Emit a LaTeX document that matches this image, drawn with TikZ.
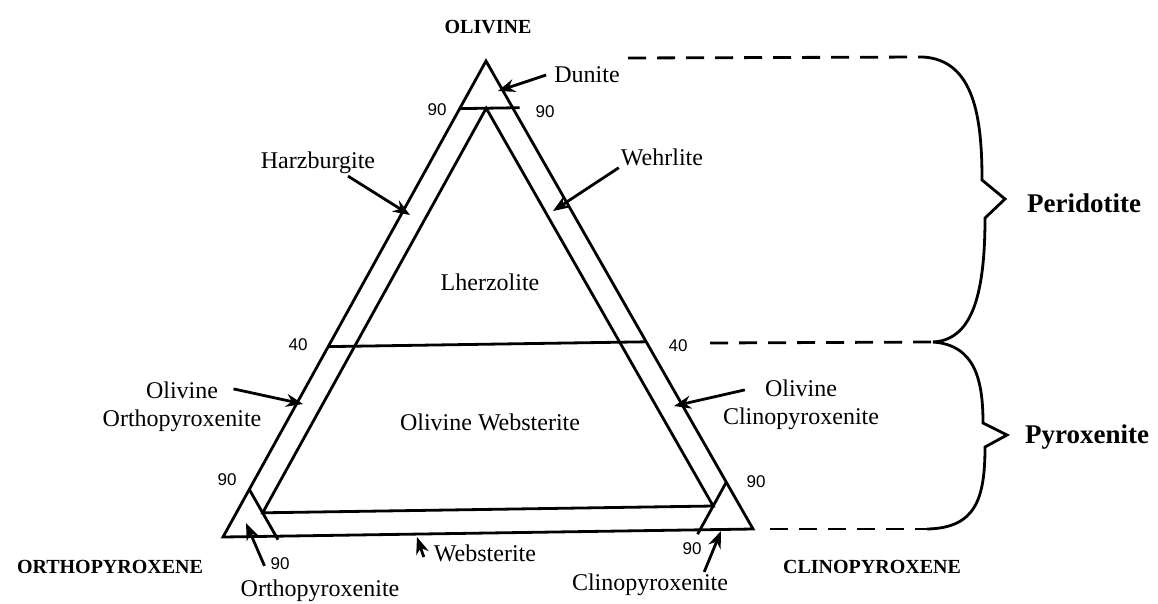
\documentclass[tikz,border=0pt]{standalone}
\usepackage{fontspec}
\setmainfont{Liberation Serif}
\newfontfamily\numfont{Liberation Sans}
\usetikzlibrary{arrows.meta,calc}
\tikzset{
  edge/.style={line width=2.8pt, line join=miter},
  lbl/.style={font=\fontsize{24}{28}\selectfont, align=center, inner sep=2pt},
  corner/.style={font=\bfseries\fontsize{20}{24}\selectfont, inner sep=2pt},
  num/.style={font=\numfont\fontsize{17}{20}\selectfont, inner sep=1pt},
  group/.style={font=\bfseries\fontsize{27}{32}\selectfont, inner sep=2pt},
  arr/.style={-{Stealth[length=17pt,width=13pt]}, line width=2.8pt},
  guide/.style={dash pattern=on 18pt off 11pt, line width=2.8pt},
  brace/.style={line width=2.8pt, line join=miter}
}
\begin{document}
\begin{tikzpicture}[x=1pt,y=-1pt]
  \useasboundingbox (0,0) rectangle (1158,603);
  % Corners of the diagram
  \coordinate (O) at (486,61);
  \coordinate (A) at (223,537);
  \coordinate (C) at (753,529);
  % Outer triangle
  \draw[edge] (O) -- (A) -- (C) -- cycle;
  % 90 lines near each corner
  \draw[edge, shorten >=-7pt] (barycentric cs:O=0.9,A=0.1) -- (barycentric cs:O=0.9,C=0.1);
  \draw[edge, shorten >=-4pt] (barycentric cs:A=0.9,O=0.1) -- (barycentric cs:A=0.9,C=0.1);
  \draw[edge, shorten >=-5pt] (barycentric cs:C=0.9,O=0.1) -- (barycentric cs:C=0.9,A=0.1);
  % 40 line
  \draw[edge] (barycentric cs:O=0.4,A=0.6) -- (barycentric cs:O=0.4,C=0.6);
  % Inner triangle (5 percent strips)
  \draw[edge] (barycentric cs:O=0.9,A=0.05,C=0.05)
    -- (barycentric cs:O=0.05,A=0.9,C=0.05)
    -- (barycentric cs:O=0.05,A=0.05,C=0.9) -- cycle;

  % Corner names
  \node[corner] (ol)  at (488,27)  {OLIVINE};
  \node[corner] (opx) at (110,567) {ORTHOPYROXENE};
  \node[corner] (cpx) at (872,567) {CLINOPYROXENE};
  % Tick numbers
  \node[num] (n90a) at (437,110) {90};
  \node[num] (n90b) at (545,112) {90};
  \node[num] (n40a) at (298,345) {40};
  \node[num] (n40b) at (678,346) {40};
  \node[num] (n90c) at (227,480) {90};
  \node[num] (n90d) at (756,482) {90};
  \node[num] (n90e) at (280,564) {90};
  \node[num] (n90f) at (692,549) {90};
  % Field names
  \node[lbl] (lhz)  at (490,282) {Lherzolite};
  \node[lbl] (owb)  at (490,422) {Olivine Websterite};
  \node[lbl] (dun)  at (587,75)  {Dunite};
  \node[lbl] (harz) at (318,163) {Harzburgite};
  \node[lbl] (wehr) at (662,157) {Wehrlite};
  \node[lbl] (oopx) at (182,407) {Olivine\\Orthopyroxenite};
  \node[lbl] (ocpx) at (801,405) {Olivine\\Clinopyroxenite};
  \node[lbl] (opxl) at (320,591) {Orthopyroxenite};
  \node[lbl] (webs) at (485,553) {Websterite};
  \node[lbl] (cpxl) at (650,585) {Clinopyroxenite};
  % Arrow tips inside the strips
  \coordinate (dunT)  at (498,91);
  \coordinate (harzT) at (410,215);
  \coordinate (wehrT) at (553,211);
  \coordinate (oopxT) at (303,404);
  \coordinate (ocpxT) at (674,406);
  \coordinate (opxT)  at (246,523);
  \coordinate (websT) at (417,537);
  \coordinate (cpxT)  at (721,531);
  % Arrows
  \draw[arr] ([xshift=-6pt]dun.west) -- (dunT);
  \draw[arr] ([xshift=30pt]harz.south) -- (harzT);
  \draw[arr] (wehr.south west) -- (wehrT);
  \draw[arr] ([shift={(-30pt,-9pt)}]oopx.north east) -- (oopxT);
  \draw[arr] ([shift={(24pt,-12pt)}]ocpx.north west) -- (ocpxT);
  \draw[arr] ([shift={(26pt,12pt)}]opxl.north west) -- (opxT);
  \draw[arr] ([shift={(-8pt,-4pt)}]webs.west) -- (websT);
  \draw[arr] ([xshift=-26pt]cpxl.north east) -- (cpxT);

  % Dashed guides to the braces
  \draw[guide] (628,58) -- (923,57);
  \draw[guide] (710,343) -- (933,342);
  \draw[guide] (770,529) -- (927,529);
  % Braces
  \draw[brace] (923,57) .. controls (975,60) and (982,120) .. (982,180)
    -- (1005,199) -- (985,218) .. controls (985,300) and (970,340) .. (933,342);
  \draw[brace] (933,342) .. controls (975,345) and (983,380) .. (983,423)
    -- (1007,435) -- (985,447) .. controls (985,500) and (975,528) .. (927,529);
  \node[group] (per) at (1084,203) {Peridotite};
  \node[group] (pyr) at (1087,437) {Pyroxenite};
\end{tikzpicture}
\end{document}
